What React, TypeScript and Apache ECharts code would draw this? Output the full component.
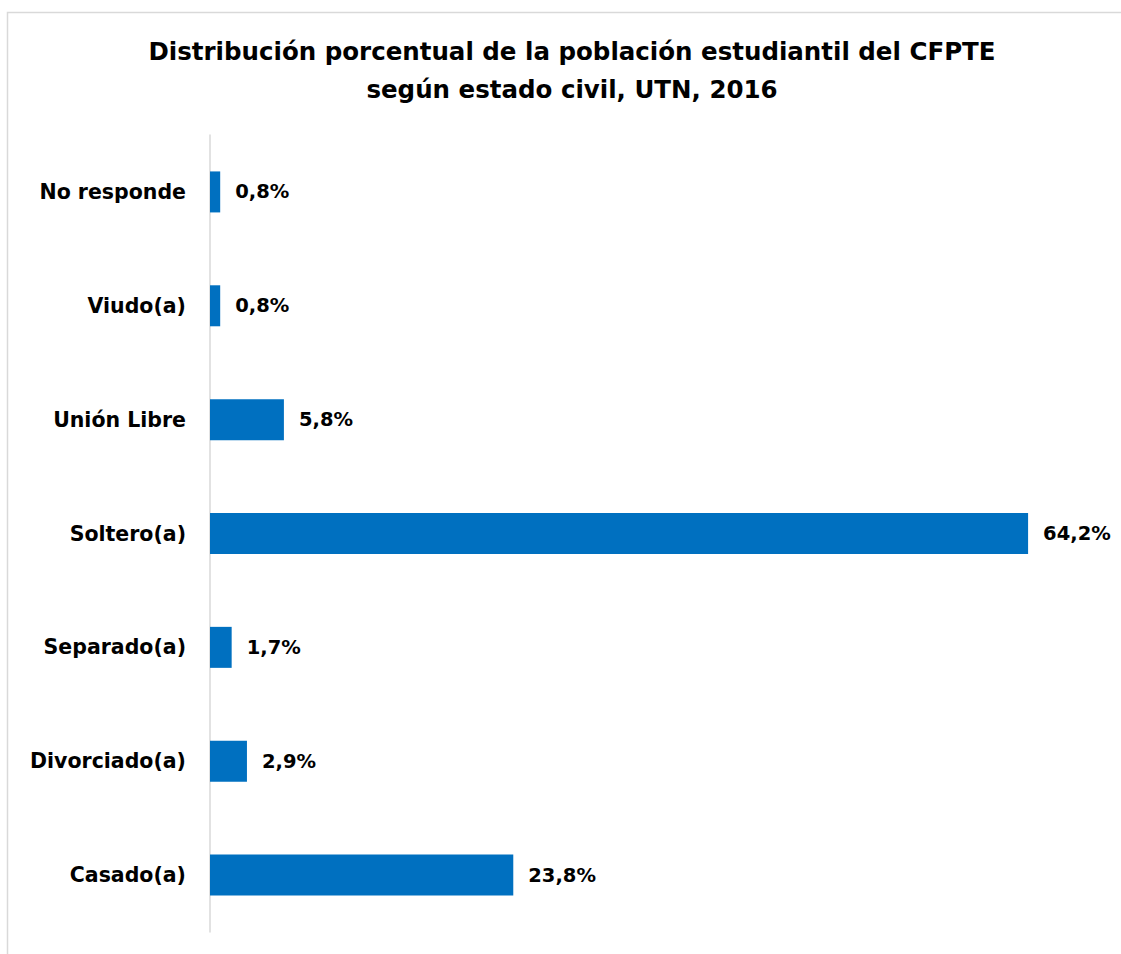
import React, { useEffect, useRef } from "react";
import * as echarts from "echarts";

const categories = [
  "Casado(a)",
  "Divorciado(a)",
  "Separado(a)",
  "Soltero(a)",
  "Unión Libre",
  "Viudo(a)",
  "No responde",
];
const values = [23.8, 2.9, 1.7, 64.2, 5.8, 0.8, 0.8];
const titleLines = [
  "Distribución porcentual de la población estudiantil del CFPTE",
  "según estado civil, UTN, 2016",
];

const FONT = "DejaVu Sans";

export default function App() {
  const ref = useRef<HTMLDivElement>(null);
  useEffect(() => {
    document.body.style.margin = "0";
    const chart = echarts.init(ref.current!, null, { renderer: "svg" });
    chart.setOption({
      animation: false,
      backgroundColor: "#ffffff",
      title: {
        text: titleLines.join("\n"),
        left: 567,
        textAlign: "center",
        top: 27,
        textStyle: {
          fontFamily: FONT,
          fontWeight: "bold",
          fontSize: 24.5,
          lineHeight: 38,
          color: "#000000",
        },
      },
      graphic: [
        {
          type: "rect",
          shape: { x: 7.5, y: 12.5, width: 1130, height: 960 },
          style: { fill: "none", stroke: "#d9d9d9", lineWidth: 1.5 },
          silent: true,
        },
      ],
      grid: { left: 210, right: 19, top: 135, bottom: 22, containLabel: false },
      xAxis: {
        type: "value",
        min: 0,
        max: 70,
        show: false,
      },
      yAxis: {
        type: "category",
        data: categories,
        axisLine: { show: true, lineStyle: { color: "#d9d9d9", width: 1.5 } },
        axisTick: { show: false },
        axisLabel: {
          fontFamily: FONT,
          fontWeight: "bold",
          fontSize: 20.5,
          color: "#000000",
          margin: 24,
        },
      },
      series: [
        {
          type: "bar",
          data: values,
          barWidth: 41,
          itemStyle: { color: "#0070C0" },
          label: {
            show: true,
            position: "right",
            distance: 15,
            formatter: (p: any) => p.value.toFixed(1).replace(".", ",") + "%",
            fontFamily: FONT,
            fontWeight: "bold",
            fontSize: 19.5,
            color: "#000000",
          },
        },
      ],
    });
    return () => chart.dispose();
  }, []);
  return (
    <div
      ref={ref}
      style={{ position: "absolute", left: 0, top: 0, width: 1121, height: 954 }}
    />
  );
}
